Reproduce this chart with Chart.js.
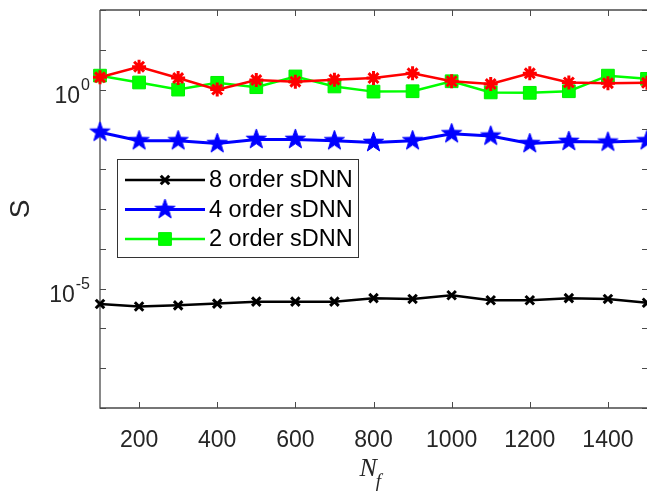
<!DOCTYPE html>
<html>
<head>
<meta charset="utf-8">
<script src="https://cdn.jsdelivr.net/npm/chart.js@4.4.0/dist/chart.umd.min.js"></script>
<style>
  html, body { margin: 0; padding: 0; background: #fff; }
  #wrap { width: 647px; height: 499px; }
</style>
</head>
<body>
<div id="wrap"><canvas id="chart" width="647" height="499"></canvas></div>
<script>
// N_f values on the x axis
const nf = [100, 200, 300, 400, 500, 600, 700, 800, 900, 1000, 1100, 1200, 1300, 1400, 1500];
const xTicks = [200, 400, 600, 800, 1000, 1200, 1400];
const yDecades = [1e-8, 1e-7, 1e-6, 1e-5, 1e-4, 1e-3, 1e-2, 1e-1, 1e0, 1e1, 1e2];
const yLabelled = [{ value: 1e0, exp: '0' }, { value: 1e-5, exp: '-5' }];

// S values
const s8 = [4.1e-6, 3.55e-6, 3.8e-6, 4.2e-6, 4.7e-6, 4.7e-6, 4.7e-6, 5.75e-6, 5.5e-6, 6.8e-6, 5.1e-6, 5.1e-6, 5.75e-6, 5.5e-6, 4.4e-6];
const s4 = [0.085, 0.052, 0.052, 0.044, 0.056, 0.056, 0.052, 0.047, 0.052, 0.078, 0.068, 0.044, 0.05, 0.048, 0.052];
const s2 = [2.24, 1.51, 1.0, 1.48, 1.15, 2.14, 1.2, 0.89, 0.91, 1.62, 0.85, 0.83, 0.91, 2.24, 1.86];
const sRed = [2.04, 3.76, 1.95, 1.0, 1.74, 1.58, 1.78, 1.95, 2.57, 1.62, 1.38, 2.57, 1.51, 1.45, 1.48];

const AXIS = '#4a4a4a';
const TEXT = '#262626';
const SANS = '"Liberation Sans", Arial, Helvetica, sans-serif';
const SERIF = '"Liberation Serif", "Times New Roman", serif';

// filled five point star like matlab's pentagram
function makeStar(color, outer) {
    const c = document.createElement('canvas');
    const size = Math.ceil(outer * 2 + 4);
    c.width = size; c.height = size;
    const ctx = c.getContext('2d');
    const inner = outer * 0.4;
    ctx.beginPath();
    for (let i = 0; i < 10; i++) {
        const r = i % 2 === 0 ? outer : inner;
        const a = -Math.PI / 2 + i * Math.PI / 5;
        const px = size / 2 + r * Math.cos(a), py = size / 2 + r * Math.sin(a);
        if (i === 0) ctx.moveTo(px, py); else ctx.lineTo(px, py);
    }
    ctx.closePath();
    ctx.fillStyle = color;
    ctx.fill();
    ctx.strokeStyle = color;
    ctx.lineWidth = 1;
    ctx.stroke();
    return c;
}
const blueStar = makeStar('#0000ff', 10.5);

const toPts = arr => arr.map((v, i) => ({ x: nf[i], y: v }));

const axesPlugin = {
    id: 'matlabAxes',
    beforeDatasetsDraw(chart) {
        const { ctx, chartArea: a, scales } = chart;
        ctx.save();
        ctx.strokeStyle = AXIS;
        ctx.lineWidth = 1.3;
        ctx.beginPath();
        ctx.moveTo(a.left, a.top); ctx.lineTo(a.left, a.bottom); ctx.lineTo(a.right + 1, a.bottom);
        ctx.moveTo(a.left, a.top); ctx.lineTo(a.right + 1, a.top);
        ctx.stroke();
        ctx.lineWidth = 1;
        ctx.beginPath();
        xTicks.forEach(v => {
            const x = Math.round(scales.x.getPixelForValue(v)) + 0.5;
            ctx.moveTo(x, a.bottom); ctx.lineTo(x, a.bottom - 6);
            ctx.moveTo(x, a.top); ctx.lineTo(x, a.top + 6);
        });
        yDecades.forEach(v => {
            const y = Math.round(scales.y.getPixelForValue(v)) + 0.5;
            ctx.moveTo(a.left, y); ctx.lineTo(a.left + 6, y);
            ctx.moveTo(a.right + 1, y); ctx.lineTo(a.right - 5, y);
        });
        ctx.stroke();
        ctx.restore();
    },
    afterDraw(chart) {
        const { ctx, chartArea: a, scales } = chart;
        ctx.save();
        ctx.fillStyle = TEXT;
        // y tick labels with exponents
        yLabelled.forEach(t => {
            const y = scales.y.getPixelForValue(t.value);
            ctx.font = '16px ' + SANS;
            const ew = ctx.measureText(t.exp).width;
            const supRight = a.left - 10;
            ctx.textAlign = 'left';
            ctx.textBaseline = 'alphabetic';
            ctx.fillText(t.exp, supRight - ew, y);
            ctx.font = '23px ' + SANS;
            ctx.textAlign = 'right';
            ctx.fillText('10', supRight - ew - 1, y + 13);
        });
        // y axis title
        ctx.save();
        ctx.translate(29, 209);
        ctx.rotate(-Math.PI / 2);
        ctx.font = '28px ' + SANS;
        ctx.textAlign = 'center';
        ctx.textBaseline = 'alphabetic';
        ctx.fillText('S', 0, 0);
        ctx.restore();
        // x axis title N_f
        const cx = (a.left + a.right) / 2;
        ctx.font = 'italic 26px ' + SERIF;
        ctx.textAlign = 'left';
        const nw = ctx.measureText('N').width;
        ctx.fillText('N', cx - 14, 476);
        ctx.font = 'italic 19px ' + SERIF;
        ctx.fillText('f', cx - 14 + nw - 1, 487);
        ctx.restore();
    },
    afterDatasetsDraw(chart) {
        // legend box inside the axes
        const { ctx } = chart;
        const box = { x: 117.5, y: 159.5, w: 241, h: 98 };
        ctx.save();
        ctx.fillStyle = '#ffffff';
        ctx.fillRect(box.x, box.y, box.w, box.h);
        ctx.strokeStyle = '#333333';
        ctx.lineWidth = 1;
        ctx.strokeRect(box.x, box.y, box.w, box.h);
        const items = chart.data.datasets.filter(d => d.label);
        items.forEach((d, i) => {
            const y = 180 + i * 29.5;
            ctx.strokeStyle = d.borderColor;
            ctx.lineWidth = d.borderWidth;
            ctx.beginPath();
            ctx.moveTo(125, y); ctx.lineTo(205, y);
            ctx.stroke();
            ctx.fillStyle = d.pointBackgroundColor;
            ctx.strokeStyle = d.pointBorderColor;
            ctx.lineWidth = d.pointBorderWidth;
            Chart.helpers.drawPoint(ctx, {
                pointStyle: d.pointStyle, radius: d.pointRadius,
                borderWidth: d.pointBorderWidth, rotation: 0
            }, 165, y);
            ctx.fillStyle = '#000000';
            ctx.font = '23.5px ' + SANS;
            ctx.textAlign = 'left';
            ctx.textBaseline = 'middle';
            ctx.fillText(d.label, 209, y + 1);
        });
        ctx.restore();
    }
};

new Chart(document.getElementById('chart'), {
    type: 'line',
    data: {
        datasets: [
            {
                label: '8 order sDNN', data: toPts(s8), order: 3,
                borderColor: '#000000', borderWidth: 2.5,
                pointStyle: 'crossRot', pointRadius: 6, pointBorderWidth: 3,
                pointBorderColor: '#000000', pointBackgroundColor: '#000000'
            },
            {
                label: '4 order sDNN', data: toPts(s4), order: 2,
                borderColor: '#0000ff', borderWidth: 3,
                pointStyle: blueStar, pointRadius: 10, pointBorderWidth: 1,
                pointBorderColor: '#0000ff', pointBackgroundColor: '#0000ff'
            },
            {
                label: '2 order sDNN', data: toPts(s2), order: 1,
                borderColor: '#00ff00', borderWidth: 2.5,
                pointStyle: 'rect', pointRadius: 9, pointBorderWidth: 1,
                pointBorderColor: '#00ee00', pointBackgroundColor: '#00ff00'
            },
            {
                label: '', data: toPts(sRed), order: 0,
                borderColor: '#ff0000', borderWidth: 2.5,
                pointStyle: 'star', pointRadius: 7, pointBorderWidth: 3,
                pointBorderColor: '#ff0000', pointBackgroundColor: '#ff0000'
            }
        ]
    },
    options: {
        responsive: false,
        animation: false,
        devicePixelRatio: 1,
        layout: { autoPadding: false, padding: { top: 10, left: 0, right: 0, bottom: 0 } },
        elements: { line: { tension: 0 } },
        datasets: { line: { clip: false } },
        plugins: { legend: { display: false }, tooltip: { enabled: false } },
        scales: {
            x: {
                type: 'linear', min: 100, max: 1500,
                grid: { display: false }, border: { display: false },
                afterBuildTicks: s => { s.ticks = xTicks.map(v => ({ value: v })); },
                afterFit: s => { s.height = 91; s.paddingLeft = 0; s.paddingRight = 0; },
                ticks: {
                    color: TEXT, padding: 11, maxRotation: 0, autoSkip: false,
                    font: { family: SANS, size: 23 },
                    callback: v => String(v)
                }
            },
            y: {
                type: 'logarithmic', min: 1e-8, max: 1e2,
                grid: { display: false }, border: { display: false },
                afterBuildTicks: s => { s.ticks = yDecades.map(v => ({ value: v })); },
                afterFit: s => { s.width = 100; s.paddingTop = 0; s.paddingBottom = 0; },
                ticks: { display: true, callback: () => '' }
            }
        }
    },
    plugins: [axesPlugin]
});
</script>
</body>
</html>
